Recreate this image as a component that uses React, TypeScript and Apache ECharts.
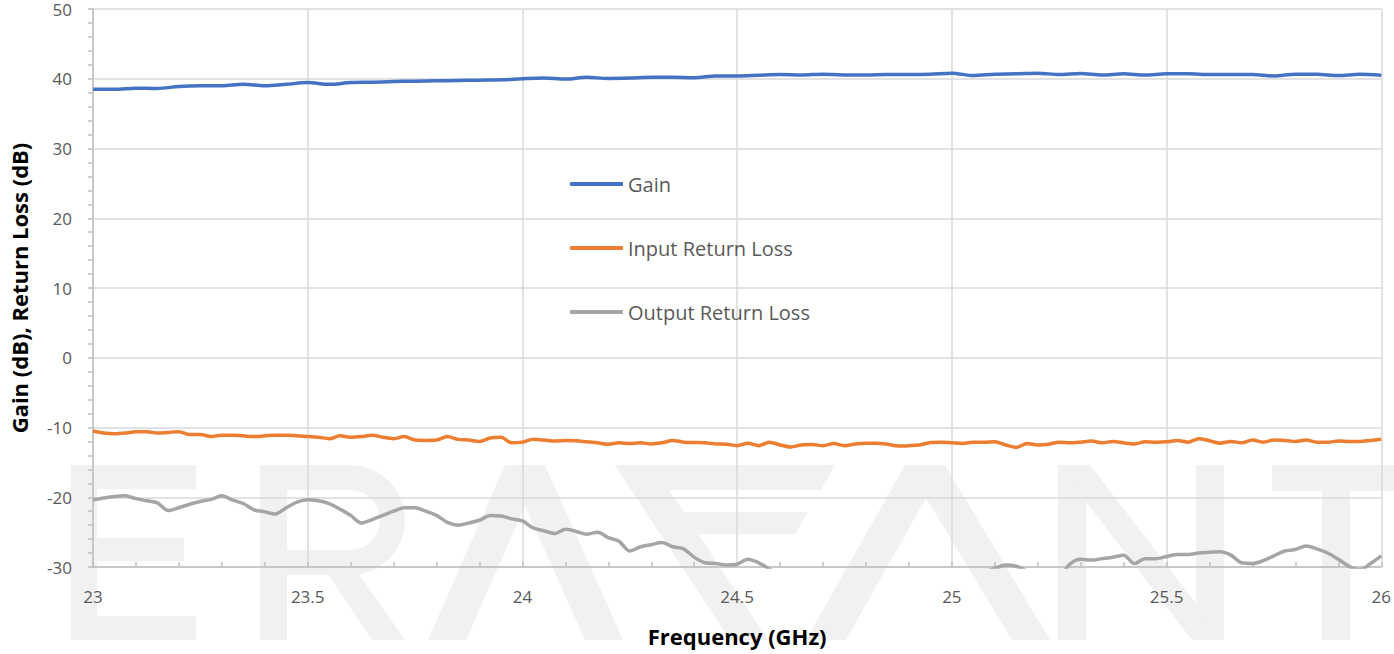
import React, { useEffect, useRef } from "react";
import * as echarts from "echarts";

const FONT = "'Open Sans', 'Noto Sans', sans-serif";

const gainFreq = [
  23, 23.05, 23.1, 23.15, 23.2, 23.25, 23.3, 23.35, 23.4, 23.45,
  23.5, 23.55, 23.6, 23.65, 23.7, 23.75, 23.8, 23.85, 23.9, 23.95,
  24, 24.05, 24.1, 24.15, 24.2, 24.25, 24.3, 24.35, 24.4, 24.45,
  24.5, 24.55, 24.6, 24.65, 24.7, 24.75, 24.8, 24.85, 24.9, 24.95,
  25, 25.05, 25.1, 25.15, 25.2, 25.25, 25.3, 25.35, 25.4, 25.45,
  25.5, 25.55, 25.6, 25.65, 25.7, 25.75, 25.8, 25.85, 25.9, 25.95,
  26,
];

const gain = [
  38.5, 38.5, 38.65, 38.6, 38.9, 39.0, 39.0, 39.2, 39.0, 39.2,
  39.45, 39.2, 39.45, 39.5, 39.6, 39.65, 39.7, 39.75, 39.8, 39.85,
  40.0, 40.1, 39.95, 40.2, 40.05, 40.1, 40.2, 40.2, 40.15, 40.4,
  40.4, 40.5, 40.6, 40.55, 40.65, 40.55, 40.55, 40.6, 40.6, 40.65,
  40.8, 40.45, 40.65, 40.7, 40.8, 40.6, 40.75, 40.55, 40.7, 40.55,
  40.7, 40.7, 40.6, 40.6, 40.6, 40.4, 40.65, 40.65, 40.45, 40.65,
  40.5,
];

const rlFreq = [
  23, 23.025, 23.05, 23.075, 23.1, 23.125, 23.15, 23.175, 23.2, 23.225,
  23.25, 23.275, 23.3, 23.325, 23.35, 23.375, 23.4, 23.425, 23.45, 23.475,
  23.5, 23.525, 23.55, 23.575, 23.6, 23.625, 23.65, 23.675, 23.7, 23.725,
  23.75, 23.775, 23.8, 23.825, 23.85, 23.875, 23.9, 23.925, 23.95, 23.975,
  24, 24.025, 24.05, 24.075, 24.1, 24.125, 24.15, 24.175, 24.2, 24.225,
  24.25, 24.275, 24.3, 24.325, 24.35, 24.375, 24.4, 24.425, 24.45, 24.475,
  24.5, 24.525, 24.55, 24.575, 24.6, 24.625, 24.65, 24.675, 24.7, 24.725,
  24.75, 24.775, 24.8, 24.825, 24.85, 24.875, 24.9, 24.925, 24.95, 24.975,
  25, 25.025, 25.05, 25.075, 25.1, 25.125, 25.15, 25.175, 25.2, 25.225,
  25.25, 25.275, 25.3, 25.325, 25.35, 25.375, 25.4, 25.425, 25.45, 25.475,
  25.5, 25.525, 25.55, 25.575, 25.6, 25.625, 25.65, 25.675, 25.7, 25.725,
  25.75, 25.775, 25.8, 25.825, 25.85, 25.875, 25.9, 25.925, 25.95, 25.975,
  26,
];

const inputRL = [
  -10.5, -10.8, -10.9, -10.8, -10.6, -10.6, -10.8, -10.7, -10.6, -11.0,
  -11.0, -11.3, -11.1, -11.1, -11.2, -11.3, -11.2, -11.1, -11.1, -11.2,
  -11.3, -11.4, -11.6, -11.2, -11.4, -11.3, -11.1, -11.4, -11.6, -11.3,
  -11.8, -11.85, -11.8, -11.3, -11.7, -11.8, -12.0, -11.5, -11.4, -12.2,
  -12.1, -11.7, -11.8, -11.95, -11.85, -11.9, -12.05, -12.2, -12.4, -12.2,
  -12.3, -12.2, -12.35, -12.2, -11.85, -12.1, -12.15, -12.2, -12.35, -12.4,
  -12.6, -12.25, -12.6, -12.1, -12.5, -12.8, -12.5, -12.45, -12.6, -12.3,
  -12.6, -12.35, -12.25, -12.25, -12.4, -12.65, -12.6, -12.5, -12.15, -12.1,
  -12.2, -12.3, -12.1, -12.1, -12.05, -12.5, -12.85, -12.3, -12.5, -12.4,
  -12.1, -12.2, -12.1, -11.95, -12.2, -12.0, -12.2, -12.35, -12.05, -12.1,
  -12.05, -11.85, -12.1, -11.6, -11.9, -12.25, -12.0, -12.2, -11.8, -12.1,
  -11.8, -11.85, -12.0, -11.8, -12.1, -12.1, -11.95, -12.0, -12.0, -11.85,
  -11.7,
];

const outputRL = [
  -20.35, -20.1, -19.9, -19.8, -20.2, -20.5, -20.8, -21.9, -21.5, -21.0,
  -20.6, -20.3, -19.8, -20.4, -20.9, -21.8, -22.1, -22.4, -21.5, -20.7,
  -20.35, -20.5, -20.9, -21.7, -22.6, -23.7, -23.2, -22.6, -22.0, -21.5,
  -21.5, -22.0, -22.6, -23.6, -24.0, -23.7, -23.3, -22.6, -22.7, -23.1,
  -23.4, -24.4, -24.8, -25.2, -24.6, -24.9, -25.3, -25.0, -25.8, -26.3,
  -27.7, -27.1, -26.8, -26.5, -27.1, -27.4, -28.6, -29.4, -29.5, -29.7,
  -29.6, -28.9, -29.4, -30.3, -31.2, -32.0, -32.5, -33.0, -33.5, -33.5,
  -33.0, -33.5, -34.0, -33.5, -33.0, -32.5, -32.5, -32.0, -32.0, -31.5,
  -31.5, -31.0, -31.0, -30.7, -30.2, -29.7, -29.9, -30.6, -31.5, -32.0,
  -31.5, -29.6, -28.9, -29.0, -28.8, -28.6, -28.3, -29.5, -28.8, -28.8,
  -28.5, -28.2, -28.2, -28.0, -27.9, -27.8, -28.3, -29.4, -29.5, -29.1,
  -28.4, -27.7, -27.5, -27.0, -27.4, -28.0, -28.9, -29.9, -30.4, -29.5,
  -28.4,
];

const seriesNames = ["Gain", "Input Return Loss", "Output Return Loss"];
const seriesColors = ["#4472C4", "#ED7D31", "#A5A5A5"];

const WM = "#f1f1f1";

function watermark() {
  const rect = (x: number, y: number, w: number, h: number) => ({
    type: "rect",
    z: -10,
    silent: true,
    shape: { x, y, width: w, height: h },
    style: { fill: WM },
  });
  const poly = (pts: number[][]) => ({
    type: "polygon",
    z: -10,
    silent: true,
    shape: { points: pts },
    style: { fill: WM },
  });
  return [
    // E
    rect(71, 465, 26, 175),
    rect(71, 465, 125, 24),
    rect(71, 538, 113, 23),
    rect(71, 616, 125, 24),
    // R
    rect(260, 465, 27, 175),
    rect(287, 465, 63, 25),
    rect(287, 550, 63, 25),
    {
      type: "sector",
      z: -10,
      silent: true,
      shape: { cx: 350, cy: 520, r: 55, r0: 30, startAngle: -Math.PI / 2, endAngle: Math.PI / 2, clockwise: true },
      style: { fill: WM },
    },
    poly([[325, 570], [356, 570], [405, 640], [372, 640]]),
    // A
    poly([[428, 640], [505, 465], [545, 465], [623, 640], [585, 640], [525, 506], [466, 640]]),
    // V
    poly([[615, 465], [653, 465], [768, 640], [730, 640]]),
    poly([[615, 465], [835, 465], [821, 490], [631, 490]]),
    poly([[646, 512], [808, 512], [795, 534], [660, 534]]),
    // A
    poly([[806, 640], [905, 465], [945, 465], [1050, 640], [1012, 640], [926, 498], [846, 640]]),
    // N
    rect(1058, 465, 28, 175),
    rect(1196, 465, 28, 175),
    poly([[1058, 465], [1090, 465], [1224, 640], [1192, 640]]),
    // T
    rect(1272, 465, 130, 26),
    rect(1322, 465, 28, 175),
  ];
}

export default function App() {
  const ref = useRef<HTMLDivElement>(null);
  useEffect(() => {
    const chart = echarts.init(ref.current!, null, { renderer: "svg" });
    const dataSets = [
      gainFreq.map((f, i) => [f, gain[i]]),
      rlFreq.map((f, i) => [f, inputRL[i]]),
      rlFreq.map((f, i) => [f, outputRL[i]]),
    ];
    chart.setOption({
      animation: false,
      backgroundColor: "#ffffff",
      textStyle: { fontFamily: FONT },
      graphic: { elements: watermark() },
      grid: { left: 93, top: 9, width: 1290, height: 558 },
      legend: {
        orient: "vertical",
        left: 570,
        top: 172,
        padding: 0,
        itemWidth: 53,
        itemHeight: 4,
        itemGap: 40,
        icon: "roundRect",
        data: seriesNames,
        textStyle: { color: "#595959", fontSize: 20, fontFamily: FONT, lineHeight: 24 },
        selectedMode: false,
      },
      xAxis: {
        type: "value",
        min: 23,
        max: 26,
        interval: 0.5,
        name: "Frequency (GHz)",
        nameLocation: "middle",
        nameGap: 58,
        nameTextStyle: { color: "#000000", fontSize: 22, fontWeight: "bold", fontFamily: FONT },
        axisLine: { show: true, onZero: false, lineStyle: { color: "#bfbfbf", width: 1.5 } },
        axisTick: { show: true, inside: true, length: 5, lineStyle: { color: "#bfbfbf", width: 1.5 } },
        minorTick: { show: true, splitNumber: 5, length: 5, lineStyle: { color: "#bfbfbf", width: 1.5 } },
        axisLabel: { color: "#595959", fontSize: 17, lineHeight: 17, fontFamily: FONT, margin: 21 },
        splitLine: { show: true, lineStyle: { color: "#d9d9d9", width: 1.5 } },
      },
      yAxis: {
        type: "value",
        min: -30,
        max: 50,
        interval: 10,
        name: "Gain (dB), Return Loss (dB)",
        nameLocation: "middle",
        nameGap: 63,
        nameTextStyle: { color: "#000000", fontSize: 22, fontWeight: "bold", fontFamily: FONT },
        axisLine: { show: true, onZero: false, lineStyle: { color: "#bfbfbf", width: 1.5 } },
        axisTick: { show: true, inside: false, length: 5, lineStyle: { color: "#bfbfbf", width: 1.5 } },
        minorTick: { show: true, splitNumber: 5, length: 5, lineStyle: { color: "#bfbfbf", width: 1.5 } },
        axisLabel: { color: "#595959", fontSize: 17, lineHeight: 17, fontFamily: FONT, margin: 21 },
        splitLine: { show: true, lineStyle: { color: "#d9d9d9", width: 1.5 } },
      },
      series: seriesNames.map((name, i) => ({
        name,
        type: "line",
        data: dataSets[i],
        symbol: "none",
        showSymbol: false,
        smooth: 0.3,
        clip: true,
        z: 5 - i,
        color: seriesColors[i],
        lineStyle: { color: seriesColors[i], width: 3.5 },
        itemStyle: { color: seriesColors[i] },
      })),
    });
    return () => chart.dispose();
  }, []);
  return (
    <div
      ref={ref}
      style={{ position: "absolute", left: 0, top: 0, width: 1394, height: 654 }}
    />
  );
}
